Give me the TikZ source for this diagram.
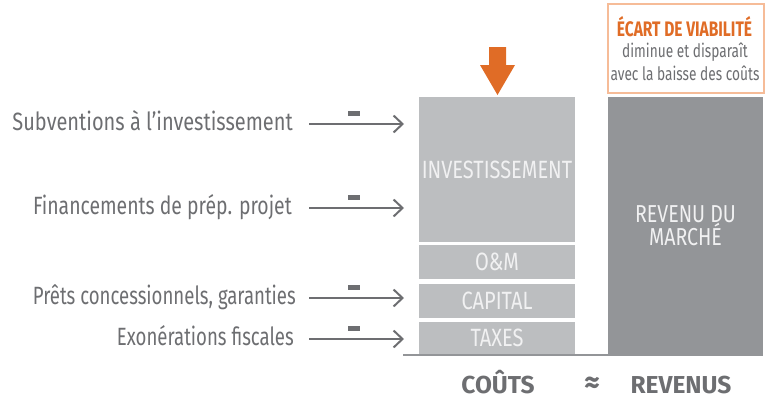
\documentclass[tikz,border=0pt]{standalone}
\usepackage{fontspec}
\setmainfont[FakeStretch=0.8]{Fira Sans}
\newfontfamily\bottomfont[FakeStretch=1.0]{Fira Sans}
\newfontfamily\ecartfont[FakeStretch=0.74]{Fira Sans}
\usetikzlibrary{arrows.meta}
\definecolor{lightbox}{HTML}{BCBEC0}
\definecolor{darkbox}{HTML}{939598}
\definecolor{txtgray}{HTML}{6D6E71}
\definecolor{boxtxt}{HTML}{F1F1F2}
\definecolor{orangeA}{HTML}{E06C26}
\definecolor{peach}{HTML}{F6BC98}
\tikzset{
  costbox/.style={fill=lightbox, draw=none, minimum width=156pt, inner sep=0pt,
    text=boxtxt, font=\fontsize{25}{27}\selectfont},
  revbox/.style={fill=darkbox, draw=none, minimum width=155pt, minimum height=257pt,
    inner sep=0pt, text=boxtxt, align=center, font=\fontsize{24.5}{23}\selectfont},
  lab/.style={text=txtgray, inner sep=0pt, font=\fontsize{25}{27}\selectfont},
  conn/.style={draw=txtgray, line width=2pt, -{Straight Barb[length=9pt, width=17pt, line width=2pt]}},
  minus/.style={fill=txtgray, draw=none, minimum width=12pt, minimum height=5pt, inner sep=0pt},
  bottomlab/.style={text=txtgray, inner sep=0pt, text depth=0pt, anchor=base,
    font=\bottomfont\fontsize{24.5}{26}\selectfont\bfseries},
  ecarttxt/.style={inner sep=0pt, anchor=base, font=\ecartfont\fontsize{18.5}{20}\selectfont, text=txtgray},
}
\begin{document}
\begin{tikzpicture}[x=1pt,y=-1pt]
\useasboundingbox (0,0) rectangle (766,399);
% cost boxes
\node[costbox, minimum height=145pt] (inv) at (497,169.5) {INVESTISSEMENT};
\node[costbox, minimum height=34pt] (om) at (497,262) {O\&M};
\node[costbox, minimum height=34pt] (cap) at (497,301) {CAPITAL};
\node[costbox, minimum height=32pt] (tax) at (497,338) {TAXES};
% revenue box
\node[revbox] (rev) at (685.5,225.5) {REVENU DU\\MARCHÉ};
% ecart box
\node[draw=peach, line width=2pt, fill=white, minimum width=156pt, minimum height=89pt,
  inner sep=0pt] (ecart) at (686,48.5) {};
\node[ecarttxt, text=orangeA, font=\ecartfont\fontsize{21}{22}\selectfont\bfseries] (ecart1) at (684.5,36) {ÉCART DE VIABILITÉ};
\node[ecarttxt] (ecart2) at (685,57) {diminue et disparaît};
\node[ecarttxt] (ecart3) at (685,80) {avec la baisse des coûts};
% baseline
\coordinate (bl1) at (403,355);
\coordinate (bl2) at (763,355);
\draw[darkbox, line width=2pt] (bl1) -- (bl2);
% orange arrow
\fill[orangeA] (489,47) -- (506,47) -- (506,65) -- (515,65) -- (497.5,95) -- (480,65) -- (489,65) -- cycle;
% left arrows
\foreach \i/\y/\rx/\sx/\t in {1/124/293/1.0/{Subventions à l’investissement},
    2/208/292/0.97/{Financements de prép. projet},
    3/298/296/0.93/{Prêts concessionnels, garanties},
    4/339/294/0.93/{Exonérations fiscales}} {
  \coordinate (s\i) at (309,\y);
  \coordinate (e\i) at (404,\y);
  \node[lab, anchor=base east] (l\i) at (\rx,\y+6.5) {\scalebox{\sx}[1]{\t}};
  \node[minus] (m\i) at (354,\y-11) {};
  \draw[conn] (s\i) -- (e\i);
}
% bottom labels
\node[bottomlab] (couts) at (498,393) {COÛTS};
\node[bottomlab, font=\bottomfont\fontsize{30}{32}\selectfont\bfseries] (approx) at (592,392) {≈};
\node[bottomlab] (revenus) at (681,393) {REVENUS};
\end{tikzpicture}
\end{document}
